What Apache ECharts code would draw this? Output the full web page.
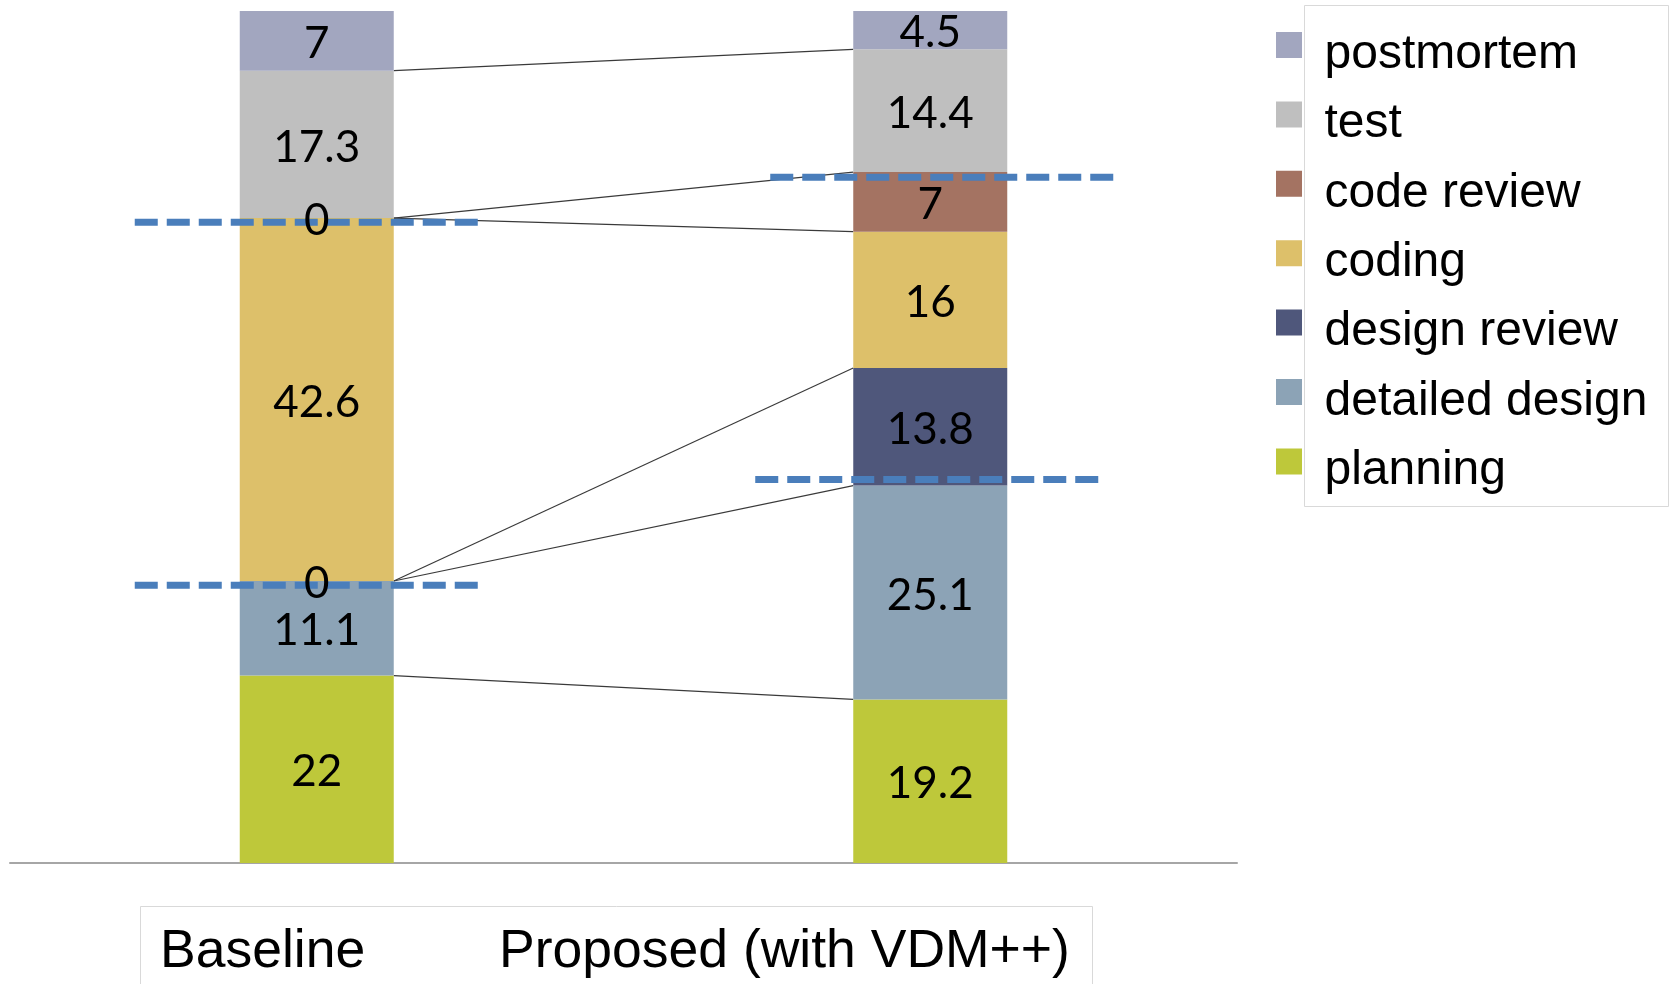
<!DOCTYPE html>
<html>
<head>
<meta charset="utf-8">
<script src="https://cdn.jsdelivr.net/npm/echarts@6/dist/echarts.min.js"></script>
<style>
  html, body { margin: 0; padding: 0; background: #ffffff; }
  #chart { width: 1671px; height: 984px; }
</style>
</head>
<body>
<div id="chart"></div>
<script>
// Effort share (%) per development phase, stacked bottom to top
const categories = ['Baseline', 'Proposed (with VDM++)'];
const phases = ['planning', 'detailed design', 'design review', 'coding', 'code review', 'test', 'postmortem'];

const planning       = [22, 19.2];
const detailedDesign = [11.1, 25.1];
const designReview   = [0, 13.8];
const coding         = [42.6, 16];
const codeReview     = [0, 7];
const test           = [17.3, 14.4];
const postmortem     = [7, 4.5];

// Dashed reference levels: which column and at what value
const guideCategory = [0, 0, 1, 1];
const guideValues   = [75.2, 32.6, 80.5, 45.0];

const phaseValues = [planning, detailedDesign, designReview, coding, codeReview, test, postmortem];
const phaseColors = ['#BEC83A', '#8CA3B6', '#4F577B', '#DDC06A', '#A47362', '#BFBFBF', '#A2A6BF'];
const legendOrder = phases.slice().reverse();

const BAR_WIDTH = 154;
const LABEL_FONT = 'Lato, "Open Sans", sans-serif';
const TEXT_FONT = '"Liberation Sans", Arial, sans-serif';

// Legend swatch: a unit square sitting in the upper part of the icon box,
// so the legend text lines up a little below the swatch centre.
const LEGEND_ICON = 'path://M0,0L1,0L1,1L0,1Z M0,1.73L0.001,1.73';

// Cumulative top of each segment (series lines joining the two columns)
const connectorData = [];
// Value labels placed at the middle of each segment
const labelData = [];
(function () {
  let acc = [0, 0];
  for (let i = 0; i < phaseValues.length; i++) {
    for (let c = 0; c < 2; c++) {
      labelData.push([c, acc[c] + phaseValues[i][c] / 2, phaseValues[i][c]]);
    }
    acc = [acc[0] + phaseValues[i][0], acc[1] + phaseValues[i][1]];
    if (i < phaseValues.length - 1) connectorData.push([0, acc[0], acc[1]]);
  }
})();

// Dashed guides: start offset from the column centre and length (px)
const guideStart = [-182, -182, -160, -175];
const GUIDE_LENGTH = 343;
const guideData = guideValues.map((v, i) => [guideCategory[i], v, i]);

const barSeries = phases.map((name, i) => ({
  name: name,
  type: 'bar',
  stack: 'effort',
  barWidth: BAR_WIDTH,
  data: phaseValues[i],
  itemStyle: { color: phaseColors[i] },
  label: { show: false },
  emphasis: { disabled: true },
  z: 2
}));

const connectorSeries = {
  type: 'custom',
  name: 'connectors',
  data: connectorData,
  encode: { x: 0, y: 1 },
  silent: true,
  z: 1,
  renderItem: function (params, api) {
    const a = api.coord([0, api.value(1)]);
    const b = api.coord([1, api.value(2)]);
    const half = BAR_WIDTH / 2;
    return {
      type: 'line',
      shape: { x1: a[0] + half, y1: a[1], x2: b[0] - half, y2: b[1] },
      style: { stroke: '#3a3a3a', lineWidth: 1.2 }
    };
  }
};

const guideSeries = {
  type: 'custom',
  name: 'guides',
  data: guideData,
  encode: { x: 0, y: 1 },
  silent: true,
  z: 3,
  renderItem: function (params, api) {
    const p = api.coord([api.value(0), api.value(1)]);
    const x1 = p[0] + guideStart[api.value(2)];
    return {
      type: 'line',
      shape: { x1: x1, y1: p[1], x2: x1 + GUIDE_LENGTH, y2: p[1] },
      style: { stroke: '#4A7EBB', lineWidth: 7, lineDash: [23, 9], lineCap: 'butt' }
    };
  }
};

const labelSeries = {
  type: 'custom',
  name: 'values',
  data: labelData,
  encode: { x: 0, y: 1 },
  silent: true,
  z: 4,
  renderItem: function (params, api) {
    const p = api.coord([api.value(0), api.value(1)]);
    return {
      type: 'text',
      x: p[0],
      y: p[1] + 3,
      style: {
        text: String(api.value(2)),
        fill: '#000000',
        font: '44px ' + LABEL_FONT,
        align: 'center',
        verticalAlign: 'middle'
      }
    };
  }
};

const chart = echarts.init(document.getElementById('chart'), null, { renderer: 'canvas' });

chart.setOption({
  animation: false,
  backgroundColor: '#ffffff',
  grid: { left: 10, right: 434, top: 11, bottom: 121, containLabel: false },
  xAxis: {
    type: 'category',
    data: categories,
    boundaryGap: true,
    axisLine: { show: true, lineStyle: { color: '#A6A6A6', width: 2 } },
    axisTick: { show: false },
    axisLabel: { show: false },
    splitLine: { show: false }
  },
  yAxis: {
    type: 'value',
    min: 0,
    max: 100,
    show: false,
    splitLine: { show: false }
  },
  legend: {
    data: legendOrder,
    orient: 'vertical',
    left: 1276,
    top: 30.5,
    padding: 0,
    itemWidth: 27,
    itemHeight: 45,
    itemGap: 21.4,
    icon: LEGEND_ICON,
    selectedMode: false,
    textStyle: {
      color: '#000000',
      fontFamily: TEXT_FONT,
      fontSize: 48,
      lineHeight: 48,
      padding: [0, 0, 0, 17]
    }
  },
  graphic: [
    {
      type: 'rect',
      z: -1,
      shape: { x: 1304.5, y: 5.5, width: 364, height: 501 },
      style: { fill: '#ffffff', stroke: '#D9D9D9', lineWidth: 1 },
      silent: true
    },
    {
      type: 'rect',
      shape: { x: 140.5, y: 906.5, width: 952, height: 100 },
      style: { fill: '#ffffff', stroke: '#D9D9D9', lineWidth: 1 },
      silent: true
    },
    {
      type: 'text',
      x: 160,
      y: 952,
      style: {
        text: categories[0],
        fill: '#000000',
        font: '53.5px ' + TEXT_FONT,
        verticalAlign: 'middle',
        align: 'left'
      },
      silent: true
    },
    {
      type: 'text',
      x: 499,
      y: 952,
      style: {
        text: categories[1],
        fill: '#000000',
        font: '53.5px ' + TEXT_FONT,
        verticalAlign: 'middle',
        align: 'left'
      },
      silent: true
    }
  ],
  series: barSeries.concat([connectorSeries, guideSeries, labelSeries])
});
</script>
</body>
</html>
